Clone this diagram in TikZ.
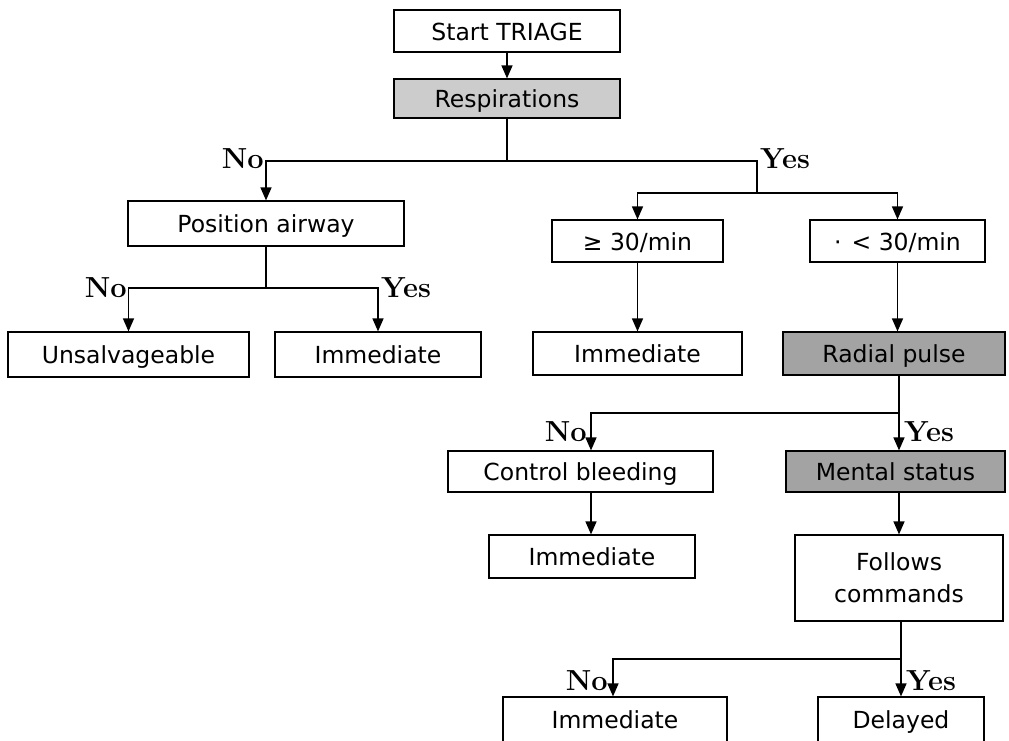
\documentclass[tikz,border=0pt]{standalone}
\usepackage{fontspec}
\newfontfamily\boxfont{DejaVu Sans}
\usetikzlibrary{arrows.meta,calc}
\begin{document}
\begin{tikzpicture}[x=1pt,y=-1pt,
  box/.style={draw, line width=1.2pt, inner sep=0pt, font=\boxfont\fontsize{23.5}{32}\selectfont, align=center},
  one/.style={box, text height=21pt, text depth=3pt},
  shadelight/.style={one, fill=black!20},
  shadedark/.style={one, fill=black!36},
  conn/.style={line width=1.4pt},
  arr/.style={conn, -{Triangle[length=13pt,width=11pt]}},
  lbl/.style={inner sep=0pt, font=\fontsize{29}{34}\selectfont\bfseries}]
\useasboundingbox (0,0) rectangle (1009,740);

% boxes
\node[one, minimum width=226, minimum height=42] (start) at (507,31) {Start TRIAGE};
\node[shadelight, minimum width=226, minimum height=39] (resp) at (507,98.5) {Respirations};
\node[one, minimum width=276, minimum height=45] (pos) at (266,223.5) {Position airway};
\node[one, minimum width=241, minimum height=45] (unsal) at (128.5,354.5) {Unsalvageable};
\node[one, minimum width=206, minimum height=45] (imma) at (378,354.5) {Immediate};
\node[one, minimum width=171, minimum height=42] (ge) at (637.5,241) {≥ 30/min};
\node[one, minimum width=175, minimum height=42] (lt) at (897.5,241) {·\hspace{10pt}< 30/min};
\node[one, minimum width=209, minimum height=43] (immb) at (637.5,353.5) {Immediate};
\node[shadedark, minimum width=222, minimum height=43] (radial) at (894,353.5) {Radial pulse};
\node[one, minimum width=265, minimum height=41] (ctrl) at (580.5,471.5) {Control bleeding};
\node[shadedark, minimum width=219, minimum height=41] (ment) at (895.5,471.5) {Mental status};
\node[one, minimum width=206, minimum height=43] (immc) at (592,556.5) {Immediate};
\node[box, minimum width=208, minimum height=86] (foll) at (899,578) {Follows\\commands};
\node[one, minimum width=224, minimum height=45] (immd) at (615,719.5) {Immediate};
\node[one, minimum width=166, minimum height=45] (del) at (901,719.5) {Delayed};

% junction coordinates
\coordinate (ja) at (507,161);
\coordinate (jb) at (757,161);
\coordinate (jc) at (757,193);
\coordinate (jd) at (266,288);
\coordinate (je) at (899,413);
\coordinate (jf) at (591,413);
\coordinate (jg) at (901,659);
\coordinate (jh) at (613,659);

% connectors
\draw[arr] (start) -- (resp);
\draw[conn] (resp) -- (ja);
\draw[arr] (ja) -| (pos.north);
\draw[conn] (ja) -- (jb) -- (jc);
\draw[arr] (jc) -| (ge.north);
\draw[arr] (jc) -| (lt.north);
\draw[conn] (pos) -- (jd);
\draw[arr] (jd) -| (unsal.north);
\draw[arr] (jd) -| (imma.north);
\draw[arr] (ge) -- (immb);
\draw[arr] (lt.south) -- (lt.south |- radial.north);
\draw[conn] (je |- radial.south) -- (je);
\draw[arr] (je) -- (je |- ment.north);
\draw[arr] (je) -- (jf) -- (jf |- ctrl.north);
\draw[arr] (jf |- ctrl.south) -- (jf |- immc.north);
\draw[arr] (je |- ment.south) -- (je |- foll.north);
\draw[conn] (jg |- foll.south) -- (jg);
\draw[arr] (jg) -- (jg |- del.north);
\draw[arr] (jg) -- (jh) -- (jh |- immd.north);

% labels
\node[lbl, anchor=base east] (noa) at (264,168) {No};
\node[lbl, anchor=base west] (yesa) at (760,168) {Yes};
\node[lbl, anchor=base east] (nob) at (127,297) {No};
\node[lbl, anchor=base west] (yesb) at (381,297) {Yes};
\node[lbl, anchor=base east] (noc) at (587,441) {No};
\node[lbl, anchor=base west] (yesc) at (904,441) {Yes};
\node[lbl, anchor=base east] (nod) at (608,690) {No};
\node[lbl, anchor=base west] (yesd) at (906,690) {Yes};
\end{tikzpicture}
\end{document}
